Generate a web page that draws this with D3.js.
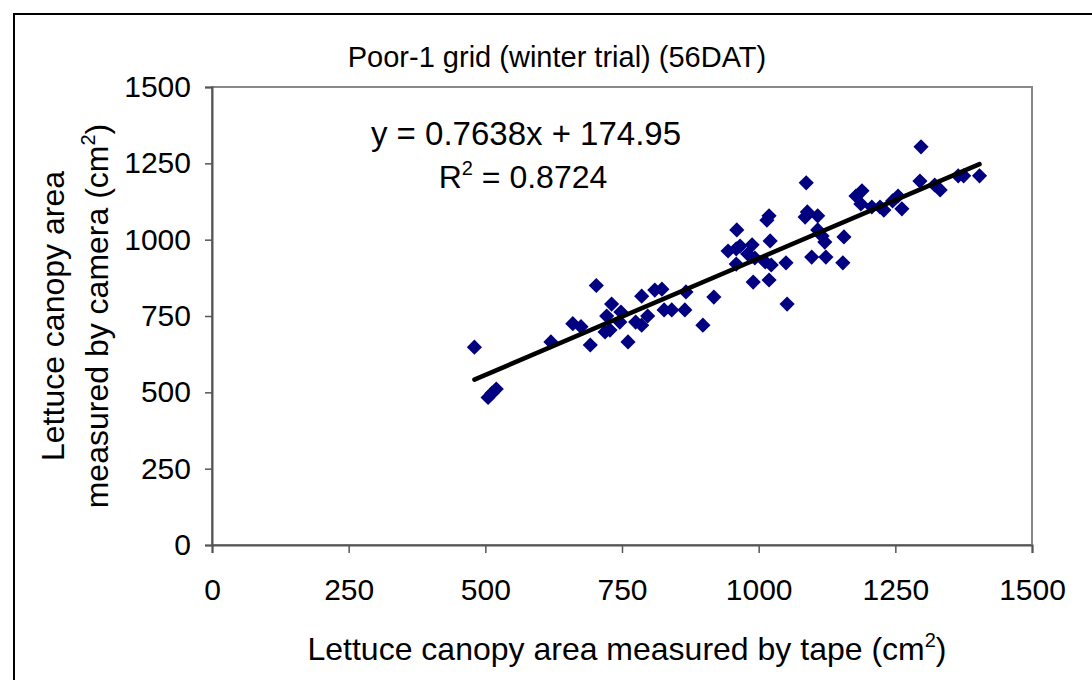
<!DOCTYPE html>
<html>
<head>
<meta charset="utf-8">
<script src="https://cdn.jsdelivr.net/npm/d3@7"></script>
<style>
  body { margin: 0; background: #fff; }
  text { font-family: "Liberation Sans", Arial, sans-serif; fill: #000; }
</style>
</head>
<body>
<div id="chart"></div>
<script>
// tape area (x) vs camera area (y), cm2
var tapeArea = [480, 505, 512, 520, 620, 660, 675, 692, 703, 719, 722, 728, 731, 746, 748, 761,
  775, 786, 786, 797, 810, 823, 827, 841, 865, 867, 898, 918, 944, 959, 960, 959, 966, 980,
  988, 993, 990, 1012, 1015, 1019, 1021, 1019, 1023, 1050, 1052, 1087, 1085, 1089, 1097, 1108,
  1108, 1116, 1123, 1121, 1156, 1154, 1178, 1187, 1189, 1207, 1222, 1229, 1245, 1255, 1262,
  1297, 1295, 1322, 1332, 1365, 1375, 1404];
var cameraArea = [648, 483, 497, 511, 665, 725, 715, 655, 850, 698, 750, 704, 789, 730, 763, 665,
  730, 720, 815, 750, 835, 838, 770, 770, 770, 829, 720, 812, 963, 970, 1032, 920, 979, 953,
  983, 940, 861, 927, 1064, 1078, 996, 868, 917, 924, 789, 1186, 1074, 1091, 943, 1078,
  1032, 1012, 943, 992, 1009, 924, 1143, 1117, 1160, 1107, 1107, 1097, 1127, 1143, 1101,
  1304, 1192, 1179, 1163, 1209, 1209, 1209];
var ticks = [0, 250, 500, 750, 1000, 1250, 1500];
var slope = 0.7638, intercept = 174.95;

var width = 1092, height = 680,
  pLeft = 212, pRight = 1032, pTop = 87, pBottom = 545;

var svg = d3.select('#chart').append('svg')
  .attr('width', width).attr('height', height);

// outer frame (runs off the right and bottom edges)
svg.append('rect')
  .attr('x', 14).attr('y', 14)
  .attr('width', width).attr('height', height)
  .style('fill', 'none').style('stroke', '#000').style('stroke-width', 2);

var x = d3.scaleLinear().domain([0, 1500]).range([pLeft, pRight]),
  y = d3.scaleLinear().domain([0, 1500]).range([pBottom, pTop]);

// plot area border
svg.append('rect')
  .attr('x', pLeft).attr('y', pTop)
  .attr('width', pRight - pLeft).attr('height', pBottom - pTop)
  .style('fill', 'none').style('stroke', '#888').style('stroke-width', 2);

var xAxis = svg.append('g')
  .attr('transform', 'translate(0,' + pBottom + ')')
  .call(d3.axisBottom(x).tickValues(ticks).tickSize(8).tickPadding(26).tickFormat(d3.format('d')));
var yAxis = svg.append('g')
  .attr('transform', 'translate(' + pLeft + ',0)')
  .call(d3.axisLeft(y).tickValues(ticks).tickSize(7).tickPadding(14).tickFormat(d3.format('d')));

[xAxis, yAxis].forEach(function(g) {
  g.select('.domain').style('stroke', '#555').style('stroke-width', 2);
  g.selectAll('.tick line').style('stroke', '#555').style('stroke-width', 1.5);
  g.selectAll('.tick text')
    .style('font-size', '30px')
    .style('font-family', '"Liberation Sans", Arial, sans-serif');
});

// points
var pts = d3.range(tapeArea.length).map(function(i) { return [tapeArea[i], cameraArea[i]]; });
svg.append('g')
  .selectAll('path')
  .data(pts)
  .enter()
  .append('path')
  .attr('d', d3.symbol(d3.symbolSquare, 115))
  .attr('transform', function(d) {
    return 'translate(' + x(d[0]) + ',' + y(d[1]) + ') rotate(45)';
  })
  .style('fill', '#000080');

// trend line
var x0 = d3.min(tapeArea), x1 = d3.max(tapeArea);
svg.append('line')
  .attr('x1', x(x0)).attr('y1', y(slope * x0 + intercept))
  .attr('x2', x(x1)).attr('y2', y(slope * x1 + intercept))
  .style('stroke', '#000').style('stroke-width', 4.5).style('stroke-linecap', 'round');

// title
svg.append('text')
  .attr('x', 557).attr('y', 67)
  .attr('text-anchor', 'middle')
  .style('font-size', '29px')
  .text('Poor-1 grid (winter trial) (56DAT)');

// equation, both lines centred on the same point
var eqX = 526;
svg.append('text')
  .attr('x', eqX).attr('y', 145)
  .attr('text-anchor', 'middle')
  .style('font-size', '33px')
  .text('y = 0.7638x + 174.95');
var r2 = svg.append('text')
  .attr('x', eqX - 3).attr('y', 188)
  .attr('text-anchor', 'middle')
  .style('font-size', '32px');
r2.append('tspan').text('R');
r2.append('tspan').attr('dy', -13).style('font-size', '20px').text('2');
r2.append('tspan').attr('dy', 13).text(' = 0.8724');

// x axis title
var xt = svg.append('text')
  .attr('x', 627).attr('y', 660)
  .attr('text-anchor', 'middle')
  .style('font-size', '32px');
xt.append('tspan').text('Lettuce canopy area measured by tape (cm');
xt.append('tspan').attr('dy', -13).style('font-size', '20px').text('2');
xt.append('tspan').attr('dy', 13).text(')');

// y axis title, two lines
var yt = svg.append('g')
  .attr('transform', 'translate(64,316) rotate(-90)');
yt.append('text')
  .attr('text-anchor', 'middle')
  .style('font-size', '32px')
  .text('Lettuce canopy area');
var yt2 = yt.append('text')
  .attr('y', 44)
  .attr('text-anchor', 'middle')
  .style('font-size', '32px');
yt2.append('tspan').text('measured by camera (cm');
yt2.append('tspan').attr('dy', -13).style('font-size', '20px').text('2');
yt2.append('tspan').attr('dy', 13).text(')');
</script>
</body>
</html>
